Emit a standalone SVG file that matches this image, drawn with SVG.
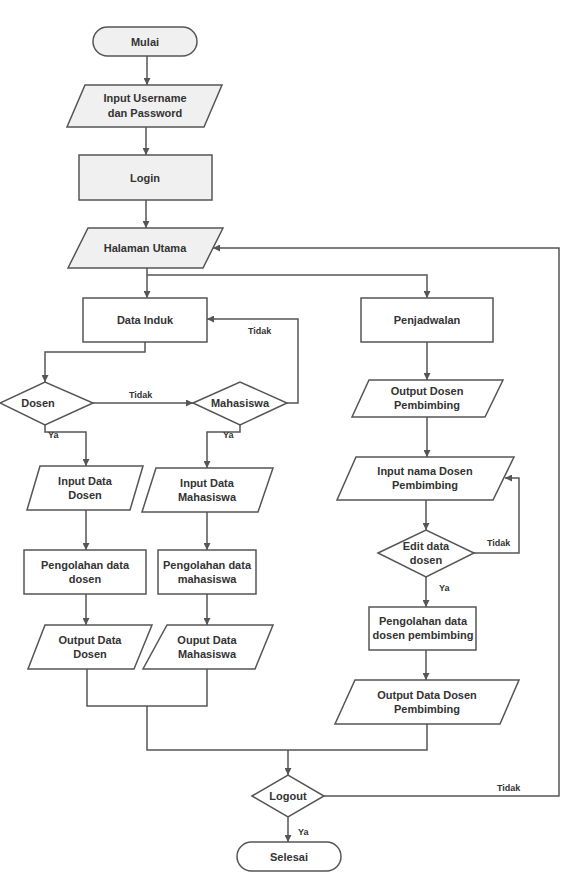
<svg xmlns="http://www.w3.org/2000/svg" width="565" height="882" viewBox="0 0 565 882">
<defs>
<marker id="ah" viewBox="0 0 10 10" refX="10" refY="5" markerWidth="7" markerHeight="7" orient="auto" markerUnits="userSpaceOnUse">
<path d="M0,0 L10,5 L0,10 z" fill="#555"/>
</marker>
<style>
.s{fill:#fff;stroke:#555;stroke-width:1.5}
.g{fill:#f0f0f0;stroke:#555;stroke-width:1.5}
.c{fill:none;stroke:#555;stroke-width:1.5}
.a{fill:none;stroke:#555;stroke-width:1.5;marker-end:url(#ah)}
text{font-family:"Liberation Sans",Arial,sans-serif;font-weight:bold;fill:#333}
.t{font-size:11px;text-anchor:middle}
.l{font-size:9px}
</style>
</defs>
<rect width="565" height="882" fill="#fff"/>
<g id="connectors">
<path class="a" d="M147,56 V85"/>
<path class="a" d="M146,127 V155"/>
<path class="a" d="M146,200 V228"/>
<path class="a" d="M147,268 V298"/>
<path class="a" d="M147,275 H427 V298"/>
<path class="a" d="M145,342 V352 H45 V382"/>
<path class="a" d="M93,403 H193"/>
<path class="a" d="M287,403 H298 V319 H207"/>
<path class="a" d="M45,425 V432 H86 V466"/>
<path class="a" d="M240,425 V432 H207 V468"/>
<path class="a" d="M86,510 V550"/>
<path class="a" d="M207,512 V550"/>
<path class="a" d="M86,594 V625"/>
<path class="a" d="M207,594 V625"/>
<path class="c" d="M87,669 V706 H207 V669"/>
<path class="c" d="M147,706 V750 H427 V724"/>
<path class="a" d="M288,750 V775"/>
<path class="a" d="M288,817 V842"/>
<path class="a" d="M324,796 H559 V248 H213"/>
<path class="a" d="M427,342 V380"/>
<path class="a" d="M427,417 V457"/>
<path class="a" d="M426,500 V530"/>
<path class="a" d="M474,553 H519 V478 H505"/>
<path class="a" d="M426,577 V607"/>
<path class="a" d="M426,650 V680"/>
<text class="l" x="248" y="334">Tidak</text>
<text class="l" x="129" y="398">Tidak</text>
<text class="l" x="48" y="438">Ya</text>
<text class="l" x="223" y="438">Ya</text>
<text class="l" x="487" y="546">Tidak</text>
<text class="l" x="439" y="591">Ya</text>
<text class="l" x="497" y="791">Tidak</text>
<text class="l" x="298" y="835">Ya</text>
</g>
<g id="mulai"><rect class="g" x="93" y="27" width="104" height="29" rx="14.5"/><text class="t" x="145" y="45.5">Mulai</text></g>
<g id="input-username"><polygon class="g" points="85,85 222,85 204,127 67,127"/><text class="t" x="145" y="102">Input Username</text><text class="t" x="145" y="117">dan Password</text></g>
<g id="login"><rect class="g" x="79" y="155" width="133" height="45"/><text class="t" x="145" y="181.5">Login</text></g>
<g id="halaman-utama"><polygon class="g" points="88,228 223,228 203,268 68,268"/><text class="t" x="145" y="252">Halaman Utama</text></g>
<g id="data-induk"><rect class="s" x="83" y="298" width="124" height="44"/><text class="t" x="145" y="324">Data Induk</text></g>
<g id="dosen"><polygon class="s" points="0,403 45,382 93,403 45,425"/><text class="t" x="38" y="407">Dosen</text></g>
<g id="mahasiswa"><polygon class="s" points="193,403 240,382 287,403 240,425"/><text class="t" x="240" y="407">Mahasiswa</text></g>
<g id="input-data-dosen"><polygon class="s" points="40,466 143,466 130,510 27,510"/><text class="t" x="85" y="485">Input Data</text><text class="t" x="85" y="499">Dosen</text></g>
<g id="input-data-mahasiswa"><polygon class="s" points="156,468 273,468 258,512 142,512"/><text class="t" x="207" y="487">Input Data</text><text class="t" x="207" y="501">Mahasiswa</text></g>
<g id="pengolahan-dosen"><rect class="s" x="24" y="550" width="122" height="44"/><text class="t" x="85" y="569">Pengolahan data</text><text class="t" x="85" y="583">dosen</text></g>
<g id="pengolahan-mahasiswa"><rect class="s" x="158" y="550" width="98" height="44"/><text class="t" x="207" y="569">Pengolahan data</text><text class="t" x="207" y="583">mahasiswa</text></g>
<g id="output-data-dosen"><polygon class="s" points="45,625 152,625 134,669 28,669"/><text class="t" x="90" y="644">Output Data</text><text class="t" x="90" y="658">Dosen</text></g>
<g id="output-data-mahasiswa"><polygon class="s" points="167,625 273,625 255,669 143,669"/><text class="t" x="207" y="644">Ouput Data</text><text class="t" x="207" y="658">Mahasiswa</text></g>
<g id="penjadwalan"><rect class="s" x="361" y="298" width="132" height="44"/><text class="t" x="427" y="324">Penjadwalan</text></g>
<g id="output-dosen-pembimbing"><polygon class="s" points="369,380 503,380 485,417 352,417"/><text class="t" x="427" y="395">Output Dosen</text><text class="t" x="427" y="409">Pembimbing</text></g>
<g id="input-nama-dosen"><polygon class="s" points="356,457 514,457 493,500 337,500"/><text class="t" x="425" y="475">Input nama Dosen</text><text class="t" x="425" y="489">Pembimbing</text></g>
<g id="edit-data-dosen"><polygon class="s" points="378,553 426,530 474,553 426,577"/><text class="t" x="426" y="550">Edit data</text><text class="t" x="426" y="564">dosen</text></g>
<g id="pengolahan-pembimbing"><rect class="s" x="369" y="607" width="107" height="43"/><text class="t" x="423" y="625">Pengolahan data</text><text class="t" x="423" y="639">dosen pembimbing</text></g>
<g id="output-data-dosen-pembimbing"><polygon class="s" points="355,680 519,680 500,724 335,724"/><text class="t" x="427" y="699">Output Data Dosen</text><text class="t" x="427" y="713">Pembimbing</text></g>
<g id="logout"><polygon class="s" points="252,796 288,775 324,796 288,817"/><text class="t" x="288" y="800">Logout</text></g>
<g id="selesai"><rect class="s" x="237" y="842" width="104" height="29" rx="14.5"/><text class="t" x="289" y="860.5">Selesai</text></g>
</svg>
